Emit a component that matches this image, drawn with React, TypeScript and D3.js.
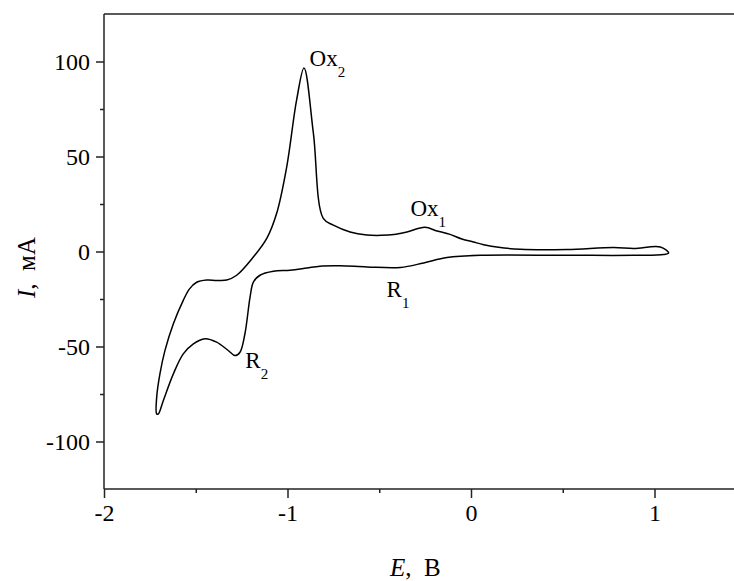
import React, { useEffect, useRef } from 'react'
import * as d3 from 'd3'

// anodic scan, from the cathodic tip up through Ox2 and Ox1 to the anodic end
const forwardE = [-1.713, -1.713, -1.695, -1.668, -1.622, -1.568, -1.535, -1.495, -1.44, -1.386, -1.331, -1.277, -1.186, -1.113, -1.059, -1.004, -0.95, -0.91, -0.859, -0.805, -0.75, -0.659, -0.568, -0.49, -0.42, -0.349, -0.251, -0.185, -0.114, -0.05, 0.013, 0.069, 0.15, 0.269, 0.523, 0.778, 0.887, 1.032, 1.077]
const forwardI = [-85.5, -76.8, -64.3, -52.2, -38.0, -25.7, -19.8, -16.2, -15.0, -15.2, -15.0, -12.5, -2.9, 6.9, 20.1, 44.7, 79.9, 96.6, 62.3, 17.4, 13.9, 10.3, 8.7, 8.5, 8.9, 10.3, 12.7, 10.8, 9.0, 6.6, 5.0, 3.6, 2.2, 1.2, 1.1, 2.1, 1.6, 2.4, -0.7]

// cathodic scan, back through R1 and R2 to the tip
const reverseE = [1.05, 0.887, 0.523, 0.051, -0.131, -0.258, -0.385, -0.567, -0.714, -0.823, -0.895, -0.986, -1.077, -1.15, -1.186, -1.204, -1.232, -1.259, -1.286, -1.323, -1.386, -1.45, -1.513, -1.568, -1.622, -1.677, -1.704]
const reverseI = [-1.6, -2.0, -2.0, -2.0, -3.2, -6.0, -8.4, -8.1, -7.5, -7.7, -8.7, -9.9, -10.4, -12.5, -16.1, -24.0, -43.3, -53.0, -54.8, -52.1, -47.7, -45.9, -48.6, -53.9, -64.4, -78.5, -85.5]

const xTicks = [-2, -1, 0, 1]
const xMinor = [-1.5, -0.5, 0.5]
const yTicks = [-100, -50, 0, 50, 100]
const yMinor = [-75, -25, 25, 75]

const peakNames = ['Ox', 'Ox', 'R', 'R']
const peakSubs = ['2', '1', '1', '2']
const peakE = [-0.88, -0.33, -0.46, -1.23]
const peakI = [97.5, 18.6, -24.2, -61.4]

const W = 734
const H = 581
const FONT = '"Liberation Serif", "Times New Roman", serif'

export default function App() {
  const ref = useRef<SVGSVGElement>(null)

  useEffect(() => {
    const svg = d3.select(ref.current)
    svg.selectAll('*').remove()

    const margin = { top: 14, left: 104, bottom: 489 }
    const x = d3.scaleLinear().domain([-2, 1.45]).range([margin.left, margin.left + 3.45 * 183.5])
    const y = d3.scaleLinear().domain([-125, 125]).range([margin.bottom, margin.top])

    const pts: [number, number][] = [
      ...forwardE.map((e, i) => [e, forwardI[i]] as [number, number]),
      ...reverseE.map((e, i) => [e, reverseI[i]] as [number, number]),
    ]
    const line = d3.line<[number, number]>()
      .x(d => x(d[0]))
      .y(d => y(d[1]))
      .curve(d3.curveCatmullRomClosed.alpha(0.5))

    svg.append('path')
      .datum(pts)
      .attr('d', line)
      .attr('fill', 'none')
      .attr('stroke', '#000')
      .attr('stroke-width', 1.5)

    const axisColor = '#222'
    const fmt = (d: d3.NumberValue) => String(d)

    // frame top
    svg.append('line')
      .attr('x1', x(-2)).attr('x2', W)
      .attr('y1', y(125)).attr('y2', y(125))
      .attr('stroke', axisColor).attr('stroke-width', 1.5)

    const gx = svg.append('g').attr('transform', `translate(0,${y(-125)})`)
    gx.call(d3.axisBottom(x).tickValues(xTicks).tickSize(9).tickPadding(6).tickFormat(fmt))
    gx.append('g').call(d3.axisBottom(x).tickValues(xMinor).tickSize(4).tickFormat(() => ''))
      .call(g => g.select('.domain').remove())
    gx.select('.domain').attr('d', `M${x(-2)},0H${W}`)

    const gy = svg.append('g').attr('transform', `translate(${x(-2)},0)`)
    gy.call(d3.axisLeft(y).tickValues(yTicks).tickSize(8).tickPadding(6).tickFormat(fmt))
    gy.append('g').call(d3.axisLeft(y).tickValues(yMinor).tickSize(4).tickFormat(() => ''))
      .call(g => g.select('.domain').remove())
    gy.select('.domain').attr('d', `M0,${y(-125)}V${y(125)}`)

    svg.selectAll('.domain, .tick line').attr('stroke', axisColor).attr('stroke-width', 1.5)
    svg.selectAll('.tick text')
      .attr('font-family', FONT)
      .attr('font-size', 24)
      .attr('fill', '#000')

    // axis titles
    const xt = svg.append('text')
      .attr('x', 390).attr('y', 576)
      .attr('font-family', FONT).attr('font-size', 25)
      .attr('xml:space', 'preserve')
    xt.append('tspan').attr('font-style', 'italic').text('E')
    xt.append('tspan').text(',  В')

    const yt = svg.append('text')
      .attr('transform', 'translate(35,298) rotate(-90)')
      .attr('font-family', FONT).attr('font-size', 25)
      .attr('xml:space', 'preserve')
    yt.append('tspan').attr('font-style', 'italic').text('I')
    yt.append('tspan').text(',  мА')

    // peak labels
    peakNames.forEach((name, i) => {
      const t = svg.append('text')
        .attr('x', x(peakE[i])).attr('y', y(peakI[i]))
        .attr('font-family', FONT).attr('font-size', 23)
      t.append('tspan').text(name)
      t.append('tspan').attr('font-size', 15).attr('dy', 11).text(peakSubs[i])
    })
  }, [])

  return (
    <svg ref={ref} width={W} height={H} style={{ position: 'absolute', left: 0, top: 0, background: '#fff' }} />
  )
}
